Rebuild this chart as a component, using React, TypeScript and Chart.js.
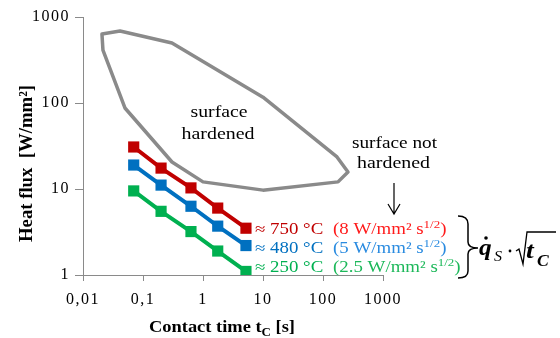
import React, { useEffect, useRef } from 'react';
import { Chart, registerables } from 'chart.js';

Chart.register(...registerables);

// ---- data ----
const contactTime = [0.07, 0.2, 0.63, 1.76, 5.2];
const flux750 = [30.8, 17.5, 10.3, 6.0, 3.5];
const flux480 = [19.0, 11.1, 6.3, 3.7, 2.2];
const flux250 = [9.5, 5.5, 3.2, 1.9, 1.1];

const boundaryTime = [0.0207, 0.0414, 0.304, 10, 171, 261, 178, 10, 1, 0.304, 0.05, 0.0215, 0.0207];
const boundaryFlux = [634, 687, 499, 117, 23.6, 15.8, 12.1, 9.7, 12.1, 20.6, 87.5, 413, 634];

const xTickValues = [0.01, 0.1, 1, 10, 100, 1000];
const xTickLabels = ['0,01', '0,1', '1', '10', '100', '1000'];
const yTickValues = [1, 10, 100, 1000];
const yTickLabels = ['1', '10', '100', '1000'];

const seriesTemps = ['≈ 750 °C', '≈ 480 °C', '≈ 250 °C'];
const seriesRates = ['(8 W/mm² s', '(5 W/mm² s', '(2.5 W/mm² s'];
const seriesColors = ['#C00000', '#0070C0', '#00B050'];
const rateColors = ['#FF1A1A', '#2A8BE0', '#1DB85A'];

const SERIF = '"Liberation Serif", "Times New Roman", serif';
const SX = 1.18;

function drawText(ctx: CanvasRenderingContext2D, s: string, x: number, y: number, font: string, color: string, sx = SX, align: CanvasTextAlign = 'left') {
  ctx.save();
  ctx.font = font;
  ctx.fillStyle = color;
  ctx.textAlign = align;
  ctx.textBaseline = 'alphabetic';
  const w = ctx.measureText(s).width * sx;
  ctx.translate(x, y);
  ctx.scale(sx, 1);
  ctx.fillText(s, 0, 0);
  ctx.restore();
  return w;
}

function fitCentered(ctx: CanvasRenderingContext2D, s: string, cx: number, y: number, width: number, font: string, color = '#000') {
  ctx.save();
  ctx.font = font;
  const w = ctx.measureText(s).width;
  ctx.restore();
  drawText(ctx, s, cx, y, font, color, width / w, 'center');
}

const annotationPlugin = {
  id: 'annotations',
  beforeDraw(chart: any) {
    (chart.ctx as any).letterSpacing = '1.5px';
  },
  afterDraw(chart: any) {
    const ctx: CanvasRenderingContext2D = chart.ctx;
    (ctx as any).letterSpacing = '0px';
    const f17 = `17px ${SERIF}`;
    fitCentered(ctx, 'surface', 219, 117, 57, f17);
    fitCentered(ctx, 'hardened', 218, 139, 73, f17);
    fitCentered(ctx, 'surface not', 394.5, 148, 85, f17);
    fitCentered(ctx, 'hardened', 393.5, 168, 73, f17);

    // arrow
    ctx.save();
    ctx.strokeStyle = '#000';
    ctx.lineWidth = 1.2;
    ctx.beginPath();
    ctx.moveTo(394, 183);
    ctx.lineTo(394, 214);
    ctx.moveTo(388, 204);
    ctx.lineTo(394, 214);
    ctx.lineTo(400, 204);
    ctx.stroke();
    ctx.restore();

    // series labels
    const baselines = [234, 253, 272];
    for (let i = 0; i < 3; i++) {
      const y = baselines[i];
      drawText(ctx, seriesTemps[i], 255, y, `16px ${SERIF}`, seriesColors[i]);
      let x = 333;
      x += drawText(ctx, seriesRates[i], x, y, `16px ${SERIF}`, rateColors[i]);
      x += drawText(ctx, '1/2', x, y - 6, `11px ${SERIF}`, rateColors[i]);
      drawText(ctx, ')', x, y, `16px ${SERIF}`, rateColors[i]);
    }

    // bracket
    ctx.save();
    ctx.strokeStyle = '#000';
    ctx.fillStyle = '#000';
    ctx.lineWidth = 1.5;
    ctx.beginPath();
    ctx.moveTo(458, 216);
    ctx.quadraticCurveTo(468, 216, 468, 224);
    ctx.lineTo(468, 242);
    ctx.quadraticCurveTo(468, 248, 478, 248);
    ctx.moveTo(478, 248);
    ctx.quadraticCurveTo(468, 248, 468, 254);
    ctx.lineTo(468, 271);
    ctx.quadraticCurveTo(468, 278, 458, 278);
    ctx.stroke();
    // formula
    drawText(ctx, 'q', 479, 255, `bold italic 23px ${SERIF}`, '#000', 1.1);
    ctx.beginPath();
    ctx.arc(486, 238, 1.8, 0, Math.PI * 2);
    ctx.fill();
    drawText(ctx, 'S', 494, 261, `italic 14px ${SERIF}`, '#000', 1.15);
    ctx.beginPath();
    ctx.arc(510, 251, 1.4, 0, Math.PI * 2);
    ctx.fill();
    ctx.lineWidth = 1.3;
    ctx.beginPath();
    ctx.moveTo(516, 251);
    ctx.lineTo(519, 249);
    ctx.lineTo(523, 264);
    ctx.lineTo(527, 232);
    ctx.lineTo(556, 232);
    ctx.stroke();
    drawText(ctx, 't', 526, 258, `bold italic 24px ${SERIF}`, '#000', 1.15);
    drawText(ctx, 'C', 537, 266, `bold italic 16px ${SERIF}`, '#000', 1.1);
    ctx.restore();

    // y-axis title (rotated)
    ctx.save();
    const yTitle = 'Heat flux  [W/mm²]';
    ctx.font = `bold 17px ${SERIF}`;
    const tw = ctx.measureText(yTitle).width;
    ctx.translate(32, 163.5);
    ctx.rotate(-Math.PI / 2);
    ctx.scale(157 / tw, 1.12);
    ctx.fillStyle = '#000';
    ctx.textAlign = 'center';
    ctx.textBaseline = 'alphabetic';
    ctx.fillText(yTitle, 0, 0);
    ctx.restore();

    // x-axis title with subscript
    ctx.save();
    const fMain = `bold 17px ${SERIF}`;
    const fSub = `bold 12px ${SERIF}`;
    ctx.font = fMain;
    const w1 = ctx.measureText('Contact time t').width;
    const w3 = ctx.measureText(' [s]').width;
    ctx.font = fSub;
    const w2 = ctx.measureText('C').width;
    ctx.restore();
    const sxT = 146 / (w1 + w2 + w3);
    let xx = 149;
    xx += drawText(ctx, 'Contact time t', xx, 332, fMain, '#000', sxT);
    xx += drawText(ctx, 'C', xx, 336, fSub, '#000', sxT);
    drawText(ctx, ' [s]', xx, 332, fMain, '#000', sxT);
  },
};

export default function App() {
  const ref = useRef<HTMLCanvasElement>(null);
  useEffect(() => {
    const canvas = ref.current!;
    const mk = (xs: number[], ys: number[]) => xs.map((x, i) => ({ x, y: ys[i] }));
    const seriesStyle = (color: string) => ({
      borderColor: color,
      backgroundColor: color,
      borderWidth: 4,
      pointStyle: 'rect' as const,
      pointRadius: 7.9,
      pointBorderWidth: 0,
      pointBackgroundColor: color,
      showLine: true,
      tension: 0,
      fill: false,
    });
    const axisGrey = '#8a8a8a';
    const chart = new Chart(canvas, {
      type: 'line',
      data: {
        datasets: [
          { label: '750', data: mk(contactTime, flux750), ...seriesStyle(seriesColors[0]) },
          { label: '480', data: mk(contactTime, flux480), ...seriesStyle(seriesColors[1]) },
          { label: '250', data: mk(contactTime, flux250), ...seriesStyle(seriesColors[2]) },
          {
            label: 'boundary',
            data: mk(boundaryTime, boundaryFlux),
            borderColor: axisGrey,
            backgroundColor: axisGrey,
            borderWidth: 3.5,
            pointRadius: 0,
            borderJoinStyle: 'round',
            borderCapStyle: 'round',
            tension: 0,
            fill: false,
          },
        ],
      },
      options: {
        responsive: false,
        devicePixelRatio: 1,
        animation: false,
        layout: { padding: { left: 0, right: 177, top: 17, bottom: 0 } },
        plugins: { legend: { display: false }, tooltip: { enabled: false } },
        scales: {
          x: {
            type: 'logarithmic',
            min: 0.01,
            max: 1000,
            afterBuildTicks: (s: any) => {
              s.ticks = xTickValues.map((v) => ({ value: v }));
            },
            afterFit: (s: any) => {
              s.height = 63;
            },
            ticks: {
              callback: (_v: any, i: number) => xTickLabels[i],
              font: { family: SERIF, size: 16 },
              color: '#000',
              maxRotation: 0,
              autoSkip: false,
              padding: 9,
            },
            grid: { display: true, drawOnChartArea: false, drawTicks: true, tickLength: 6, color: axisGrey },
            border: { display: true, color: axisGrey, width: 1 },
          },
          y: {
            type: 'logarithmic',
            min: 1,
            max: 1000,
            afterBuildTicks: (s: any) => {
              s.ticks = yTickValues.map((v) => ({ value: v }));
            },
            afterFit: (s: any) => {
              s.width = 83;
            },
            ticks: {
              callback: (_v: any, i: number) => yTickLabels[i],
              font: { family: SERIF, size: 16 },
              color: '#000',
              autoSkip: false,
              padding: 5,
            },
            grid: { display: true, drawOnChartArea: false, drawTicks: true, tickLength: 8, color: axisGrey },
            border: { display: true, color: axisGrey, width: 1 },
          },
        },
      },
      plugins: [annotationPlugin],
    } as any);
    return () => chart.destroy();
  }, []);
  return (
    <div style={{ position: 'fixed', left: 0, top: 0, width: 560, height: 338, background: '#fff' }}>
      <canvas ref={ref} width={560} height={338} style={{ display: 'block', width: 560, height: 338 }} />
    </div>
  );
}
